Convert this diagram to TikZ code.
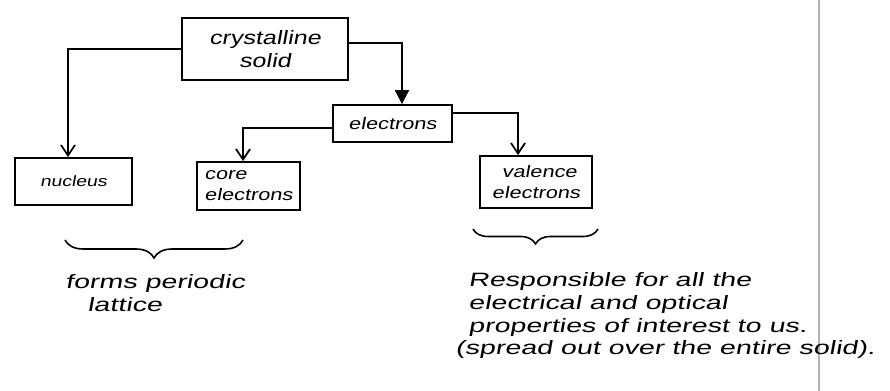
\documentclass[tikz,border=0pt]{standalone}
\usepackage{fontspec}
\usepackage{tikz}
\usetikzlibrary{arrows.meta,decorations.pathreplacing}
\newfontfamily\handfont[FakeStretch=1.3,FakeSlant=0.18]{Liberation Sans}
\newfontfamily\notefont[FakeStretch=1.48,FakeSlant=0.18]{Liberation Sans}
\newcommand{\hand}{\handfont\fontsize{11}{13}\selectfont}
\newcommand{\handsmall}{\handfont\fontsize{9.5}{12}\selectfont}
\newcommand{\handnote}{\notefont\fontsize{11}{13}\selectfont}

\begin{document}
\begin{tikzpicture}[
    x=0.02cm,y=-0.02cm,
    box/.style={draw,line width=1pt,font=\handsmall,align=left,inner sep=0pt},
    link/.style={line width=1pt,-{Straight Barb[length=6pt,width=8pt]}},
    note/.style={font=\handnote,align=left,anchor=north west,inner sep=0pt},
    curly/.style={line width=0.9pt,decorate,decoration={brace,mirror}}
]
\useasboundingbox (0,0) rectangle (890,391);

% margin line of the page
\draw[gray!60,line width=1.2pt] (819,0) -- (819,391);

\node[box,minimum width=3.32cm,minimum height=1.24cm,align=center,font=\hand] (solid) at (265,49) {crystalline\\solid};
\node[box,minimum width=2.38cm,minimum height=0.74cm] (elec) at (392.5,123.5) {electrons};
\node[box,minimum width=2.34cm,minimum height=0.94cm,font=\handfont\fontsize{8.5}{10}\selectfont] (nucleus) at (73.5,181.5) {nucleus};
\node[box,minimum width=2.06cm,minimum height=0.96cm] (core) at (248.5,186) {core\\electrons};
\node[box,minimum width=2.24cm,minimum height=1.04cm] (valence) at (536,182) {\hspace*{0.2cm}valence\\electrons};

\draw[link] (solid.west) -| ([xshift=-0.11cm]nucleus.north);
\draw[line width=1pt,-{Triangle[length=8pt,width=8pt]}] ([yshift=0.12cm]solid.east) -| ([xshift=0.19cm]elec.north);
\draw[link] ([yshift=-0.09cm]elec.west) -| ([xshift=-0.11cm]core.north);
\draw[link] ([yshift=0.21cm]elec.east) -| ([xshift=-0.36cm]valence.north);

\draw[curly,decoration={amplitude=0.36cm}] (65,240) -- (243,240);
\draw[curly,decoration={amplitude=0.3cm}] (473,229) -- (598,229);

\node[note] (lattice) at (65,274) {forms periodic\\\hspace*{0.44cm}lattice};
\node[note] (props) at (468,272) {Responsible for all the\\electrical and optical\\properties of interest to us.\\\hspace*{-0.26cm}(spread out over the entire solid).};

\end{tikzpicture}
\end{document}
